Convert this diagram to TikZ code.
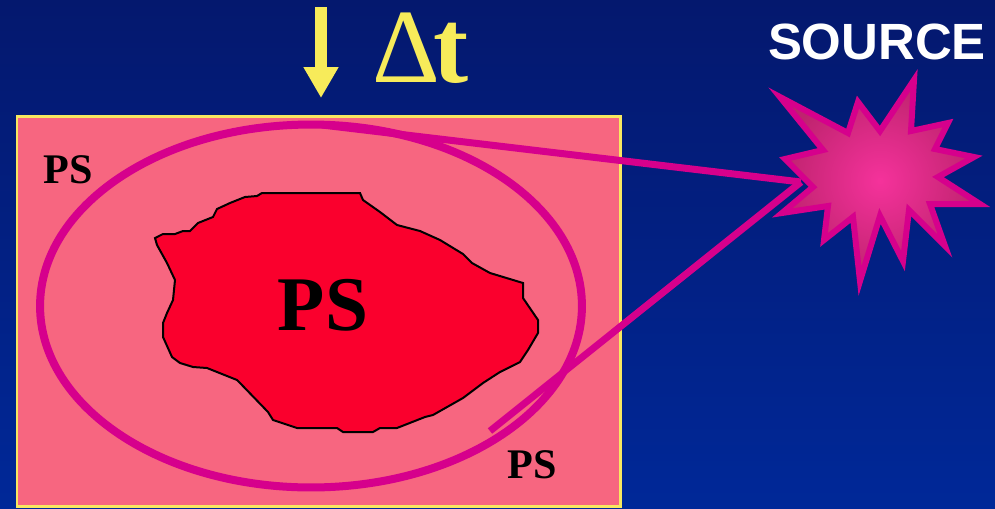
\documentclass[tikz,border=0pt]{standalone}
\usepackage{fontspec}
\setmainfont{Liberation Serif}
\newfontfamily\arialfont{Liberation Sans}
\usetikzlibrary{arrows.meta}

\definecolor{bgtop}{RGB}{4,24,110}
\definecolor{bgbot}{RGB}{0,40,152}
\definecolor{plane}{RGB}{247,102,128}
\definecolor{rim}{RGB}{247,232,96}
\definecolor{wave}{RGB}{214,0,140}
\definecolor{core}{RGB}{250,0,45}
\definecolor{glow}{RGB}{245,50,155}
\definecolor{glowout}{RGB}{190,35,110}
\definecolor{stepyellow}{RGB}{247,235,90}

\tikzset{
  pslabel/.style={font=\bfseries\fontsize{24}{24}\selectfont, text=black},
  ray/.style={draw=wave, line width=0.14cm}
}

\begin{document}
\begin{tikzpicture}[x=0.02cm, y=-0.02cm]
    \shade[top color=bgtop, bottom color=bgbot] (0,0) rectangle (995,508);
    \useasboundingbox (0,0) rectangle (995,508);
    % plane with the wavefront
    \filldraw[fill=plane, draw=rim, line width=0.06cm] (17,116) rectangle (620,506);
    \draw[wave, line width=0.16cm] (311,306) ellipse [x radius=5.42cm, y radius=3.63cm];
    % region already reached
    \filldraw[fill=core, draw=black, line width=0.04cm]
      (155,238) -- (163,234) -- (175,234) -- (183,231) -- (190,231) -- (198,223)
      -- (213,217) -- (217,209) -- (230,203) -- (245,197) -- (257,196) -- (262,193)
      -- (360,193) -- (363,200) -- (380,212) -- (397,225) -- (420,231) -- (440,240)
      -- (463,254) -- (472,263) -- (490,273) -- (523,283) -- (523,298) -- (538,320)
      -- (538,333) -- (528,350) -- (520,362) -- (500,372) -- (483,383) -- (463,398)
      -- (433,415) -- (425,417) -- (397,428) -- (380,428) -- (373,432) -- (343,432)
      -- (337,428) -- (297,428) -- (273,420) -- (268,412) -- (240,383) -- (237,380)
      -- (207,368) -- (193,367) -- (180,363) -- (172,357) -- (163,337) -- (163,323)
      -- (167,313) -- (173,300) -- (175,280) -- (167,263) -- (157,245) -- cycle;
    \node[font=\bfseries\fontsize{44}{44}\selectfont] (inner) at (323,305) {PS};
    \node[pslabel] (psl) at (68,170) {PS};
    \node[pslabel] (psr) at (532,465) {PS};
    % source
    \shadedraw[inner color=glow, outer color=glowout, draw=wave, line width=0.12cm, line join=miter]
      (780,97) -- (848,133) -- (858,102) -- (880,131) -- (914,80) -- (911,131)
      -- (948,123) -- (935,149) -- (974,157) -- (938,177) -- (980,204) -- (930,204)
      -- (945,246) -- (909,210) -- (903,261) -- (880,216) -- (860,281) -- (853,217)
      -- (824,240) -- (828,206) -- (782,213) -- (813,187) -- (785,159) -- (823,150) -- cycle;
    \node[font=\arialfont\bfseries\fontsize{29}{29}\selectfont, text=white] (src) at (877,42) {SOURCE};
    \coordinate (tip) at (801,182);
    \coordinate (top) at (322,125);
    \coordinate (low) at (490,431);
    \draw[ray] (top) -- (tip);
    \draw[ray] (low) -- (tip);
    % time step
    \coordinate (dt0) at (321,7);
    \coordinate (dt1) at (321,98);
    \draw[stepyellow, line width=0.24cm, -{Triangle[width=0.66cm, length=0.62cm]}] (dt0) -- (dt1);
    \node[font=\fontsize{60}{60}\selectfont, text=stepyellow, anchor=base west, inner sep=0pt] (dt) at (372,82) {Δ\kern-4pt\textbf{t}};
\end{tikzpicture}
\end{document}
